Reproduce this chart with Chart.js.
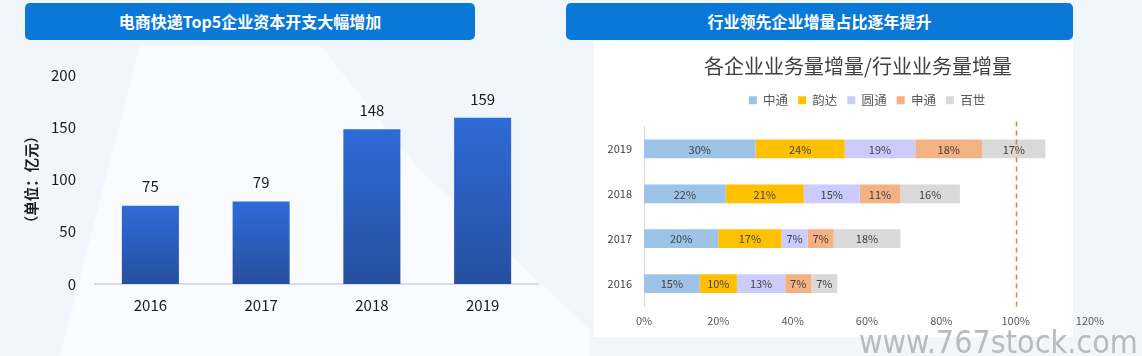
<!DOCTYPE html>
<html><head><meta charset="utf-8">
<script src="https://cdn.jsdelivr.net/npm/chart.js@4.4.1/dist/chart.umd.min.js"></script>
<style>
html,body{margin:0;padding:0;}
body{width:1142px;height:356px;position:relative;overflow:hidden;background:#F1F6FC;font-family:"Noto Sans CJK SC",sans-serif;}
.hdr{position:absolute;top:3px;height:37px;background:#0A78D6;border-radius:5px;color:#fff;font-weight:bold;font-size:16px;line-height:37px;text-align:center;}
#bg1{position:absolute;left:0;top:0;width:600px;height:356px;background:rgba(255,255,255,0.6);clip-path:polygon(140px 45px,320px 45px,420px 170px,590px 330px,590px 356px,60px 356px);}
#panel{position:absolute;left:594px;top:41px;width:479px;height:296px;background:#fff;}
#wm{position:absolute;left:859px;top:326px;font-family:"DejaVu Sans Condensed","DejaVu Sans",sans-serif;font-stretch:condensed;font-size:32px;color:#bababa;line-height:1;white-space:nowrap;}
canvas{position:absolute;}
</style></head><body>
<div id="bg1"></div>
<div id="panel"></div>
<div class="hdr" style="left:25px;width:450px;">电商快递Top5企业资本开支大幅增加</div>
<div class="hdr" style="left:566px;width:507px;">行业领先企业增量占比逐年提升</div>
<canvas id="cl" width="570" height="311" style="left:0;top:45px;"></canvas>
<canvas id="cr" width="548" height="310" style="left:594px;top:41px;"></canvas>
<div id="wm">www.767stock.com</div>
<script>
// ---- data ----
const capexYears = ['2016','2017','2018','2019'];
const capexValues = [75, 79, 148, 159];
const capexTicks = [0, 50, 100, 150, 200];

const shareYears = ['2016','2017','2018','2019'];
const seriesNames = ['中通','韵达','圆通','申通','百世'];
const ztoShare   = [15, 20, 22, 30];
const yundaShare = [10, 17, 21, 24];
const ytoShare   = [13, 7, 15, 19];
const stoShare   = [7, 7, 11, 18];
const bestShare  = [7, 18, 16, 17];
const shareTicks = [0, 20, 40, 60, 80, 100, 120];
const refLineValue = 100;

const FONT = '"Noto Sans CJK SC", sans-serif';
Chart.defaults.font.family = FONT;

// ---- left chart ----
const valueLabels = {
  id: 'valueLabels',
  afterDatasetsDraw(chart) {
    const ctx = chart.ctx;
    const meta = chart.getDatasetMeta(0);
    ctx.save();
    ctx.font = '15px ' + FONT;
    ctx.fillStyle = '#1a1a1a';
    ctx.textAlign = 'center';
    ctx.textBaseline = 'middle';
    meta.data.forEach((bar, i) => {
      ctx.fillText(String(chart.data.datasets[0].data[i]), bar.x, bar.y - 19);
    });
    ctx.restore();
  }
};

new Chart(document.getElementById('cl'), {
  type: 'bar',
  data: {
    labels: capexYears,
    datasets: [{
      data: capexValues,
      barPercentage: 0.515,
      categoryPercentage: 1,
      backgroundColor(c) {
        const chart = c.chart;
        if (!chart.chartArea || c.raw === undefined) return '#2B5EC0';
        const y = chart.scales.y;
        const top = y.getPixelForValue(c.raw);
        const bottom = y.getPixelForValue(0);
        const g = chart.ctx.createLinearGradient(0, top, 0, bottom);
        g.addColorStop(0, '#2E6BD7');
        g.addColorStop(1, '#264F9F');
        return g;
      }
    }]
  },
  options: {
    responsive: false, animation: false, devicePixelRatio: 1,
    layout: { padding: { left: 0, right: 32, top: 30, bottom: 0 } },
    plugins: { legend: { display: false }, tooltip: { enabled: false } },
    scales: {
      x: {
        grid: { display: false, drawTicks: false },
        border: { display: true, color: '#D9DCE4', width: 2 },
        ticks: { color: '#1a1a1a', font: { size: 15 }, padding: 12 },
        afterFit(s) { s.height = 72; }
      },
      y: {
        min: 0, max: 200,
        afterBuildTicks(s) { s.ticks = capexTicks.map(v => ({ value: v })); },
        ticks: { color: '#1a1a1a', font: { size: 15 }, padding: 19 },
        grid: { display: false, drawTicks: false },
        border: { display: false },
        title: { display: true, text: '（单位：亿元）', color: '#1a1a1a', font: { size: 14.5, weight: 'bold' }, padding: { top: 23, bottom: 0 } },
        afterFit(s) { s.width = 95; }
      }
    }
  },
  plugins: [valueLabels]
});

// ---- right chart ----
const shareColors = ['#9DC3E6', '#FFC000', '#CCCCFC', '#F4B183', '#D9D9D9'];
const shareSeries = [ztoShare, yundaShare, ytoShare, stoShare, bestShare];

const segLabels = {
  id: 'segLabels',
  afterLayout(chart) {
    const t = chart.titleBlock;
    if (t) { t.left -= 9; t.right -= 9; }
  },
  afterDatasetsDraw(chart) {
    const ctx = chart.ctx;
    ctx.save();
    ctx.font = '11px ' + FONT;
    ctx.fillStyle = '#404040';
    ctx.textAlign = 'center';
    ctx.textBaseline = 'middle';
    chart.data.datasets.forEach((ds, di) => {
      chart.getDatasetMeta(di).data.forEach((bar, i) => {
        ctx.fillText(ds.data[i] + '%', (bar.x + bar.base) / 2, bar.y + 0.5);
      });
    });
    const xs = chart.scales.x;
    const x = Math.round(xs.getPixelForValue(refLineValue)) + 0.5;
    ctx.strokeStyle = '#ED7D31';
    ctx.lineWidth = 1.5;
    ctx.setLineDash([5, 4]);
    ctx.beginPath();
    ctx.moveTo(x, chart.chartArea.top - 5);
    ctx.lineTo(x, chart.chartArea.bottom + 4);
    ctx.stroke();
    ctx.restore();
  }
};

new Chart(document.getElementById('cr'), {
  type: 'bar',
  data: {
    labels: shareYears,
    datasets: seriesNames.map((n, i) => ({
      label: n, data: shareSeries[i], backgroundColor: shareColors[i],
      barPercentage: 0.42, categoryPercentage: 1
    }))
  },
  options: {
    indexAxis: 'y',
    responsive: false, animation: false, devicePixelRatio: 1,
    layout: { padding: { left: 0, right: 52, top: 0, bottom: 0 } },
    plugins: {
      tooltip: { enabled: false },
      title: { display: true, fullSize: false, text: '各企业业务量增量/行业业务量增量', color: '#404040', font: { size: 20, weight: 'normal' }, padding: { top: 13, bottom: 6 } },
      subtitle: { display: true, fullSize: false, weight: 500, text: ' ', font: { size: 1, lineHeight: 1 }, padding: { top: 0, bottom: 9 } },
      legend: { display: true, fullSize: false, labels: { boxWidth: 8, boxHeight: 8, color: '#595959', font: { size: 12.5 }, padding: 10 } }
    },
    scales: {
      x: {
        stacked: true, min: 0, max: 120,
        afterBuildTicks(s) { s.ticks = shareTicks.map(v => ({ value: v })); },
        ticks: { callback: v => v + '%', color: '#595959', font: { size: 11 }, padding: 8 },
        grid: { display: false, drawTicks: false },
        border: { display: false },
        afterFit(s) { s.height = 45; }
      },
      y: {
        stacked: true, reverse: true,
        ticks: { color: '#404040', font: { size: 11 }, padding: 12 },
        grid: { display: false, drawTicks: false },
        border: { display: true, color: '#D9D9D9', width: 1 },
        afterFit(s) { s.width = 50; }
      }
    }
  },
  plugins: [segLabels]
});
</script>
</body></html>
